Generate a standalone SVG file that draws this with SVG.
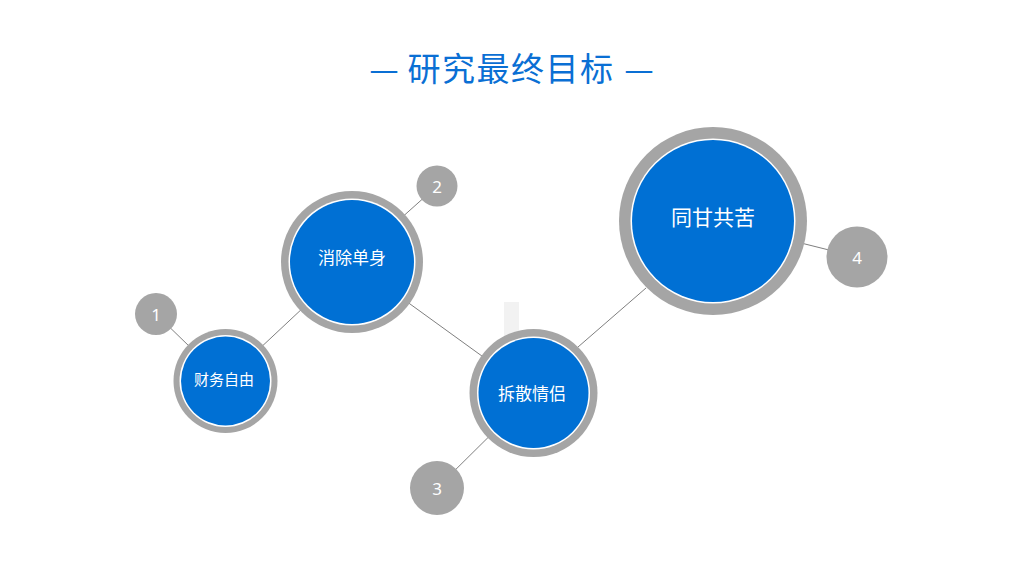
<svg xmlns="http://www.w3.org/2000/svg" width="1024" height="576" viewBox="0 0 1024 576">
<style>
.ring{fill:#a5a5a5}
.gap{fill:#ffffff}
.core{fill:#0070d4}
.num{fill:#a5a5a5}
.lbl{fill:#ffffff;font-family:"Noto Sans CJK SC","Noto Sans",sans-serif;text-anchor:middle;dominant-baseline:central}
.n{fill:#ffffff;font-family:"Noto Sans","Liberation Sans",sans-serif;text-anchor:middle;dominant-baseline:central;font-size:17px}
.title{fill:#0a6fd4;font-family:"Noto Sans CJK SC",sans-serif;font-size:33px;text-anchor:middle}
.con line{stroke:#7f7f7f;stroke-width:1}
</style>
<rect width="1024" height="576" fill="#ffffff"/>
<g id="title">
<text class="title" x="384" y="81">—</text>
<text class="title" x="511" y="81" letter-spacing="1.5">研究最终目标</text>
<text class="title" x="639" y="81">—</text>
</g>
<rect x="504" y="302" width="15" height="34" fill="#f2f2f2"/>
<g id="connectors" class="con">
<line x1="156" y1="314" x2="225" y2="381"/>
<line x1="225" y1="381" x2="352" y2="262"/>
<line x1="437" y1="186" x2="352" y2="262"/>
<line x1="352" y1="262" x2="533" y2="393"/>
<line x1="533" y1="393" x2="437" y2="488"/>
<line x1="578" y1="347" x2="646" y2="288"/>
<line x1="713" y1="221" x2="857" y2="257"/>
</g>
<g id="node1">
<circle class="ring" cx="225.5" cy="381" r="52"/>
<circle class="gap" cx="225.5" cy="381" r="46"/>
<circle class="core" cx="225.5" cy="381" r="44.5"/>
<text class="lbl" x="224" y="378.5" font-size="15">财务自由</text>
</g>
<g id="node2">
<circle class="ring" cx="352" cy="262" r="71"/>
<circle class="gap" cx="352" cy="262" r="63.5"/>
<circle class="core" cx="352" cy="262" r="62"/>
<text class="lbl" x="352" y="256.5" font-size="17">消除单身</text>
</g>
<g id="node3">
<circle class="ring" cx="533.5" cy="393" r="64"/>
<circle class="gap" cx="533.5" cy="393" r="56.5"/>
<circle class="core" cx="533.5" cy="393" r="55"/>
<text class="lbl" x="532" y="392.5" font-size="17">拆散情侣</text>
</g>
<g id="node4">
<circle class="ring" cx="713" cy="221" r="94"/>
<circle class="gap" cx="713" cy="221" r="82.5"/>
<circle class="core" cx="713" cy="221" r="81"/>
<text class="lbl" x="713" y="216" font-size="21">同甘共苦</text>
</g>
<g id="badge1"><circle class="num" cx="156" cy="314" r="21"/><text class="n" x="156" y="314">1</text></g>
<g id="badge2"><circle class="num" cx="437" cy="186" r="20.5"/><text class="n" x="437" y="186">2</text></g>
<g id="badge3"><circle class="num" cx="437" cy="488" r="27"/><text class="n" x="437" y="488">3</text></g>
<g id="badge4"><circle class="num" cx="857" cy="257" r="30.5"/><text class="n" x="857" y="257">4</text></g>
</svg>
